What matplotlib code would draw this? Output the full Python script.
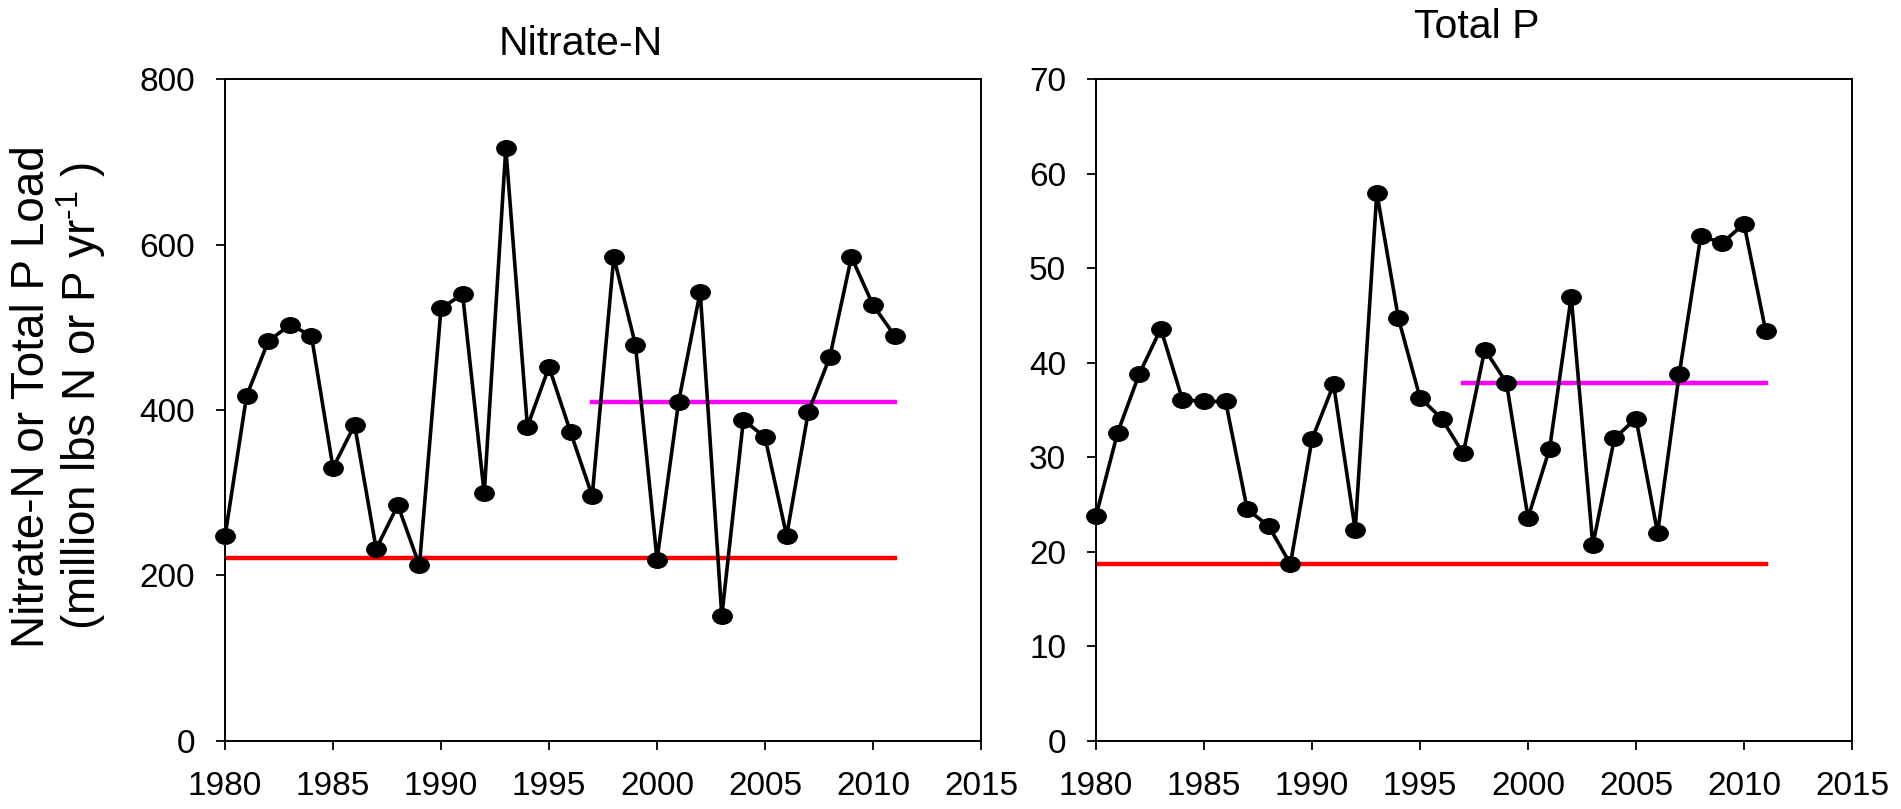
import matplotlib
matplotlib.use("Agg")
import matplotlib.pyplot as plt
from matplotlib.path import Path
from matplotlib.transforms import Affine2D

plt.rcParams["mathtext.fontset"] = "custom"
plt.rcParams["mathtext.rm"] = "Liberation Sans"
plt.rcParams["mathtext.it"] = "Liberation Sans"
plt.rcParams["mathtext.bf"] = "Liberation Sans:bold"

years = list(range(1980, 2012))
nitrate = [247, 417, 483, 503, 490, 330, 382, 232, 285, 212,
           523, 540, 299, 717, 380, 452, 373, 296, 585, 479,
           219, 410, 543, 151, 388, 367, 248, 397, 464, 585, 527, 490]
total_p = [23.8, 32.6, 38.8, 43.6, 36.1, 35.9, 35.9, 24.5, 22.7, 18.7,
           31.9, 37.7, 22.3, 58.0, 44.7, 36.3, 34.1, 30.4, 41.4, 37.9,
           23.6, 30.9, 47.0, 20.7, 32.0, 34.1, 22.0, 38.8, 53.4, 52.7, 54.7, 43.4]

nitrate_base = 221
nitrate_recent = 410
p_base = 18.7
p_recent = 37.9
base_span = (1980, 2011)
recent_span = (1997, 2011)

titles = ["Nitrate-N", "Total P"]
ylims = [(0, 800), (0, 70)]
yticks = [list(range(0, 801, 200)), list(range(0, 71, 10))]
xticks = list(range(1980, 2016, 5))

font = ["Liberation Sans", "DejaVu Sans"]

ell = Path.unit_circle().transformed(Affine2D().scale(1.25, 1.0))

fig = plt.figure(figsize=(19.01, 8.09), dpi=100)
axes = [fig.add_axes([0.11836, 0.08443, 0.39769, 0.81755]),
        fig.add_axes([0.57654, 0.08443, 0.39769, 0.81755])]

series = [nitrate, total_p]
bases = [nitrate_base, p_base]
recents = [nitrate_recent, p_recent]

for ax, s, b, r, yl, yt in zip(axes, series, bases, recents, ylims, yticks):
    ax.plot(base_span, [b, b], color="#ff0000", lw=3.2, zorder=2)
    ax.plot(recent_span, [r, r], color="#ff00ff", lw=3.2, zorder=2)
    ax.plot(years, s, color="black", lw=2.6, marker=ell, markersize=14,
            markerfacecolor="black", markeredgecolor="black", zorder=3,
            clip_on=False)
    ax.set_xlim(1980, 2015)
    ax.set_ylim(*yl)
    ax.set_xticks(xticks)
    ax.set_yticks(yt)
    ax.tick_params(axis="both", direction="out", length=6.5, width=1.3,
                   top=False, right=False, labelsize=24)
    ax.tick_params(axis="x", pad=15)
    ax.tick_params(axis="y", pad=15)
    for lab in ax.get_xticklabels() + ax.get_yticklabels():
        lab.set_family(font)
    for sp in ax.spines.values():
        sp.set_linewidth(1.4)
        sp.set_color("black")

fig.text(580.5 / 1901, 1 - 55 / 809, titles[0], fontsize=29.5, family=font,
         ha="center", va="baseline")
fig.text(1477 / 1901, 1 - 38 / 809, titles[1], fontsize=29.5, family=font,
         ha="center", va="baseline")

fig.text(0.0170, 0.51, "Nitrate-N or Total P Load", rotation=90, fontsize=33,
         family=font, ha="center", va="center")
fig.text(0.0425, 0.51, r"(million lbs N or P yr$^{\text{-1}}$ )", rotation=90,
         fontsize=33, family=font, ha="center", va="center")

fig.savefig("out.png", dpi=100)
